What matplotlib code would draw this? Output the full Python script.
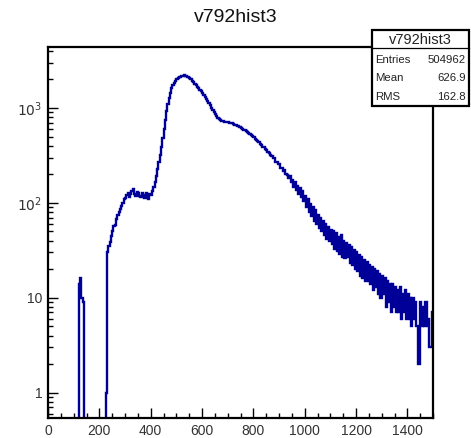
import numpy as np
import matplotlib
matplotlib.use("Agg")
import matplotlib.pyplot as plt
from matplotlib.patches import Rectangle
from matplotlib.lines import Line2D
from matplotlib.ticker import FixedLocator, MultipleLocator, LogLocator, NullFormatter

plt.rcParams['font.family'] = ['Liberation Sans', 'DejaVu Sans']

# ---- data: 5-unit bins from 0 to 1500 (one row = 50 units) ----
bin_width = 5
counts = [
    0, 0, 0, 0, 0, 0, 0, 0, 0, 0,                       # 0
    0, 0, 0, 0, 0, 0, 0, 0, 0, 0,                       # 50
    0, 0, 0, 0, 14, 16, 10, 9, 0, 0,                    # 100
    0, 0, 0, 0, 0, 0, 0, 0, 0, 0,                       # 150
    0, 0, 0, 0, 0, 1, 30, 35, 39, 45,                   # 200
    50, 57, 59, 67, 75, 80, 86, 93, 100, 109,           # 250
    113, 121, 127, 116, 124, 133, 140, 124, 118, 131,   # 300
    126, 119, 114, 128, 122, 112, 126, 118, 110, 124,   # 350
    120, 133, 146, 165, 190, 225, 270, 320, 390, 480,   # 400
    600, 750, 920, 1100, 1280, 1450, 1620, 1740, 1850, 1930,   # 450
    2000, 2060, 2120, 2150, 2180, 2200, 2210, 2190, 2150, 2110,  # 500
    2060, 2000, 1930, 1870, 1800, 1740, 1680, 1620, 1560, 1500,  # 550
    1430, 1370, 1300, 1240, 1180, 1120, 1070, 1010, 960, 910,    # 600
    860, 820, 790, 765, 745, 732, 722, 716, 712, 708,   # 650
    705, 702, 698, 690, 682, 670, 664, 650, 642, 628,   # 700
    620, 600, 592, 580, 574, 556, 548, 530, 522, 504,   # 750
    496, 474, 464, 446, 438, 418, 412, 392, 390, 366,   # 800
    358, 342, 338, 316, 314, 296, 294, 272, 270, 254,   # 850
    256, 236, 232, 218, 222, 200, 198, 184, 190, 166,   # 900
    176, 148, 168, 138, 152, 124, 142, 116, 132, 104,   # 950
    118, 90, 110, 80, 98, 72, 90, 64, 84, 60,           # 1000
    74, 54, 70, 50, 64, 46, 60, 42, 56, 40,             # 1050
    52, 37, 50, 33, 48, 31, 44, 29, 46, 27,             # 1100
    40, 26, 38, 27, 36, 23, 34, 22, 32, 20,             # 1150
    30, 19, 28, 17, 27, 16, 25, 15, 24, 15,             # 1200
    22, 14, 21, 12, 20, 13, 19, 11, 18, 10,             # 1250
    17, 11, 16, 8, 15, 9, 14, 7, 14, 8,                 # 1300
    13, 7, 12, 7, 13, 6, 11, 7, 12, 6,                  # 1350
    11, 6, 10, 5, 10, 6, 9, 5, 2, 2,                    # 1400
    9, 5, 8, 5, 9, 5, 6, 3, 3, 7,                       # 1450
]
title = "v792hist3"
x_ticks = [0, 200, 400, 600, 800, 1000, 1200, 1400]
y_ticks = [1, 10, 100, 1000]
y_tick_labels = ["1", "10", r"$10^{2}$", r"$10^{3}$"]
stat_names = ["Entries", "Mean", "RMS"]
stat_values = ["504962", "626.9", "162.8"]

edges = np.arange(len(counts) + 1) * bin_width
vals = np.array(counts, dtype=float)
vals[vals <= 0] = 1e-3

W, H = 471, 438
fig = plt.figure(figsize=(W / 100, H / 100), dpi=100)
fig.patch.set_facecolor("white")

ax_l, ax_r, ax_t, ax_b = 48, 433, 47, 418
ax = fig.add_axes([ax_l / W, 1 - ax_b / H, (ax_r - ax_l) / W, (ax_b - ax_t) / H])
ax.stairs(vals, edges, color="#000099", linewidth=1.7, baseline=None)
ax.set_yscale("log")
ax.set_xlim(0, 1500)
ax.set_ylim(0.54, 4400)

ax.xaxis.set_major_locator(FixedLocator(x_ticks))
ax.xaxis.set_minor_locator(MultipleLocator(50))
ax.yaxis.set_major_locator(FixedLocator(y_ticks))
ax.set_yticklabels(y_tick_labels)
ax.yaxis.set_minor_locator(LogLocator(base=10, subs=np.arange(2, 10)))
ax.yaxis.set_minor_formatter(NullFormatter())

ax.tick_params(which="major", direction="in", length=7, width=1.0, labelsize=10,
               top=False, right=False, labelcolor="#333333", pad=4)
ax.tick_params(which="minor", direction="in", length=3.5, width=1.0,
               top=False, right=False)
for s in ax.spines.values():
    s.set_linewidth(1.6)
    s.set_color("black")

fig.text(236 / W, 1 - 18 / H, title, ha="center", va="center", fontsize=14, color="#111111")

# stats box
bx0, bx1, by0, by1 = 372, 469, 30, 106
box = Rectangle((bx0 / W, 1 - by1 / H), (bx1 - bx0) / W, (by1 - by0) / H,
                transform=fig.transFigure, facecolor="white", edgecolor="black",
                linewidth=1.6, zorder=10)
fig.add_artist(box)
fig.add_artist(Line2D([bx0 / W, bx1 / W], [1 - 48 / H, 1 - 48 / H],
                      transform=fig.transFigure, color="black", linewidth=0.9, zorder=11))
fig.text((bx0 + bx1) / 2 / W, 1 - 40 / H, title, ha="center", va="center",
         fontsize=10.5, zorder=12, color="#222222")
rows_y = [60, 78, 97]
for name, val, yy in zip(stat_names, stat_values, rows_y):
    fig.text((bx0 + 3) / W, 1 - yy / H, name, ha="left", va="center", fontsize=8.2,
             zorder=12, color="#222222")
    fig.text((bx1 - 3) / W, 1 - yy / H, val, ha="right", va="center", fontsize=8.2,
             zorder=12, color="#222222")

fig.savefig("out.png", dpi=100)
